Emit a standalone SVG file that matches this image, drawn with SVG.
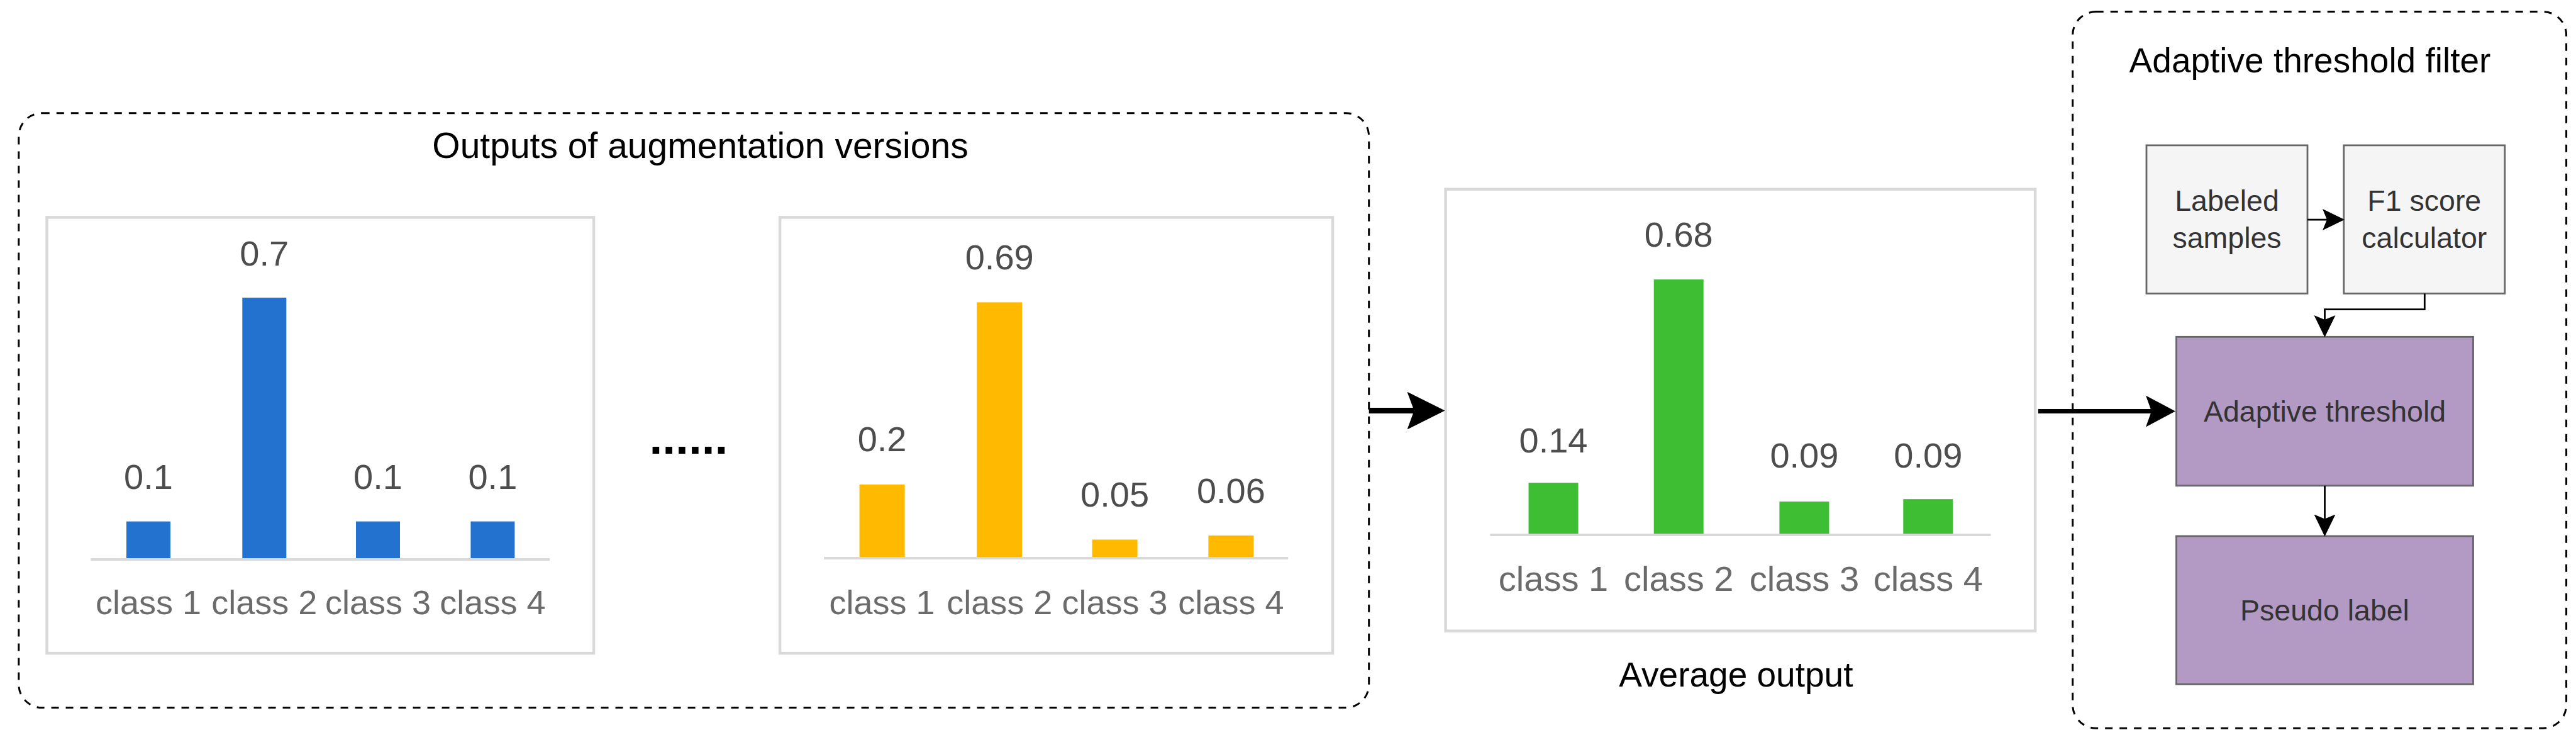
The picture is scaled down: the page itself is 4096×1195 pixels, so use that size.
<svg xmlns="http://www.w3.org/2000/svg" width="4096" height="1195" viewBox="0 0 4096 1195">
  <style>
    .grp { fill: none; stroke: #000; stroke-width: 3; stroke-dasharray: 12 11; }
    .title { font-family: "Liberation Sans", Arial, sans-serif; font-size: 55px; fill: #000; text-anchor: middle; }
    .chart { fill: #fff; stroke: #d9d9d9; stroke-width: 4.5; }
    .axis { stroke: #d9d9d9; stroke-width: 4; }
    .val { font-family: "Liberation Sans", Arial, sans-serif; font-size: 56px; fill: #4d4d4d; text-anchor: middle; }
    .cls { font-family: "Liberation Sans", Arial, sans-serif; font-size: 54px; fill: #6b6b6b; text-anchor: middle; }
    .blue { fill: #2372cf; }
    .yellow { fill: #ffba00; }
    .green { fill: #3dbe33; }
    .gray { fill: #f5f5f5; stroke: #666; stroke-width: 2.8; }
    .purple { fill: #b39ac4; stroke: #666; stroke-width: 2.8; }
    .lbl { font-family: "Liberation Sans", Arial, sans-serif; font-size: 46.5px; fill: #333; text-anchor: middle; }
    .edge { fill: none; stroke: #000; }
  </style>
  <defs>
    <marker id="ahBig" markerUnits="userSpaceOnUse" markerWidth="62" markerHeight="62" viewBox="0 0 62 62" refX="11" refY="30" orient="auto">
      <path d="M0,0 L60,30 L0,60 L11,30 Z" fill="#000"/>
    </marker>
    <marker id="ahMid" markerUnits="userSpaceOnUse" markerWidth="50" markerHeight="52" viewBox="0 0 50 52" refX="9" refY="25" orient="auto">
      <path d="M0,0 L47,25 L0,50 L9,25 Z" fill="#000"/>
    </marker>
    <marker id="ahSmall" markerUnits="userSpaceOnUse" markerWidth="36" markerHeight="36" viewBox="0 0 36 36" refX="7" refY="17" orient="auto">
      <path d="M0,0 L35,17 L0,34 L7,17 Z" fill="#000"/>
    </marker>
  </defs>

  <g id="group-augmentation">
    <rect class="grp" x="29.8" y="179.7" width="2146.9" height="944.9" rx="37" ry="37"/>
    <text class="title" x="1113.5" y="251" style="font-size:57px">Outputs of augmentation versions</text>
  </g>

  <g id="chart-1">
    <rect class="chart" x="74.5" y="345.4" width="869.6" height="692.7"/>
    <rect class="blue" x="201" y="828.6" width="70" height="59.6"/>
    <rect class="blue" x="385.3" y="473" width="70" height="415.2"/>
    <rect class="blue" x="566" y="828.6" width="70" height="59.6"/>
    <rect class="blue" x="748.4" y="828.6" width="70" height="59.6"/>
    <line class="axis" x1="144.3" y1="889" x2="874.2" y2="889"/>
    <text class="val" x="236" y="777.4">0.1</text>
    <text class="val" x="420.3" y="421.7">0.7</text>
    <text class="val" x="601" y="777.4">0.1</text>
    <text class="val" x="783.4" y="777.4">0.1</text>
    <text class="cls" x="236" y="975.7">class 1</text>
    <text class="cls" x="420.3" y="975.7">class 2</text>
    <text class="cls" x="601" y="975.7">class 3</text>
    <text class="cls" x="783.4" y="975.7">class 4</text>
  </g>

  <g id="ellipsis">
    <text x="1094.9" y="721" style="font-family:'Liberation Sans', Arial, sans-serif; font-size:75px; font-weight:bold; fill:#000; text-anchor:middle">......</text>
  </g>

  <g id="chart-2">
    <rect class="chart" x="1240.1" y="345.4" width="878.9" height="692.7"/>
    <rect class="yellow" x="1366.6" y="769.9" width="72" height="117.1"/>
    <rect class="yellow" x="1553.2" y="480.4" width="72" height="406.6"/>
    <rect class="yellow" x="1736.6" y="857.5" width="72" height="29.5"/>
    <rect class="yellow" x="1921.4" y="850.9" width="72" height="36.1"/>
    <line class="axis" x1="1310" y1="887" x2="2048.2" y2="887"/>
    <text class="val" x="1402.6" y="716.9">0.2</text>
    <text class="val" x="1589.2" y="428.3">0.69</text>
    <text class="val" x="1772.6" y="805.3">0.05</text>
    <text class="val" x="1957.4" y="798.8">0.06</text>
    <text class="cls" x="1402.6" y="975.7">class 1</text>
    <text class="cls" x="1589.2" y="975.7">class 2</text>
    <text class="cls" x="1772.6" y="975.7">class 3</text>
    <text class="cls" x="1957.4" y="975.7">class 4</text>
  </g>

  <g id="chart-average">
    <rect class="chart" x="2298.6" y="300.7" width="937.5" height="702"/>
    <rect class="green" x="2430.5" y="767.1" width="79" height="82"/>
    <rect class="green" x="2629.7" y="444.1" width="79" height="405"/>
    <rect class="green" x="2829.4" y="797" width="79" height="52"/>
    <rect class="green" x="3026.3" y="793.2" width="79" height="55.8"/>
    <line class="axis" x1="2369.4" y1="850" x2="3165.4" y2="850"/>
    <text class="val" x="2470" y="718.7">0.14</text>
    <text class="val" x="2669.2" y="392">0.68</text>
    <text class="val" x="2868.9" y="742.9">0.09</text>
    <text class="val" x="3065.8" y="742.9">0.09</text>
    <text class="cls" x="2470" y="939.4" style="font-size:56px">class 1</text>
    <text class="cls" x="2669.2" y="939.4" style="font-size:56px">class 2</text>
    <text class="cls" x="2868.9" y="939.4" style="font-size:56px">class 3</text>
    <text class="cls" x="3065.8" y="939.4" style="font-size:56px">class 4</text>
    <text class="title" x="2760.4" y="1091.1">Average output</text>
  </g>

  <g id="group-filter">
    <rect class="grp" x="3295.7" y="18.6" width="784.9" height="1138.6" rx="37" ry="37"/>
    <text class="title" x="3673" y="114.5">Adaptive threshold filter</text>
  </g>

  <g id="node-labeled-samples">
    <rect class="gray" x="3413" y="230.9" width="256" height="235.5"/>
    <text class="lbl" x="3541" y="335">Labeled</text>
    <text class="lbl" x="3541" y="393.8">samples</text>
  </g>

  <g id="node-f1-score">
    <rect class="gray" x="3726.8" y="230.9" width="256" height="235.5"/>
    <text class="lbl" x="3854.8" y="335">F1 score</text>
    <text class="lbl" x="3854.8" y="393.8">calculator</text>
  </g>

  <g id="node-adaptive-threshold">
    <rect class="purple" x="3460.5" y="535.3" width="472" height="236.5"/>
    <text class="lbl" x="3696.5" y="669.5">Adaptive threshold</text>
  </g>

  <g id="node-pseudo-label">
    <rect class="purple" x="3460.5" y="851.9" width="472" height="235.5"/>
    <text class="lbl" x="3696.5" y="985.5">Pseudo label</text>
  </g>

  <g id="connectors">
    <line class="edge" x1="2176.7" y1="652.6" x2="2248.5" y2="652.6" stroke-width="9" marker-end="url(#ahBig)"/>
    <line class="edge" x1="3240.8" y1="653.6" x2="3421" y2="653.6" stroke-width="7" marker-end="url(#ahMid)"/>
    <line class="edge" x1="3669" y1="349.1" x2="3700" y2="349.1" stroke-width="2.8" marker-end="url(#ahSmall)"/>
    <polyline class="edge" points="3855.3,466.4 3855.3,491.6 3696.5,491.6 3696.5,508" stroke-width="2.8" marker-end="url(#ahSmall)"/>
    <line class="edge" x1="3696.5" y1="771.8" x2="3696.5" y2="824.5" stroke-width="2.8" marker-end="url(#ahSmall)"/>
  </g>
</svg>
